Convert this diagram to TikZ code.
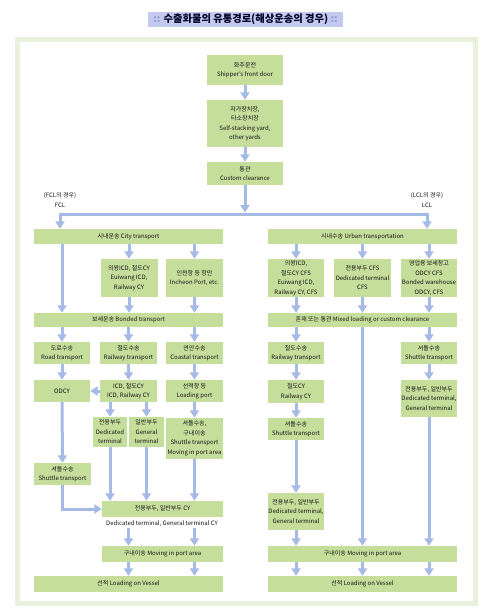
\documentclass[tikz,border=0pt]{standalone}
\usepackage{fontspec}
\setmainfont{Noto Sans CJK KR}
\usetikzlibrary{arrows.meta}
\definecolor{flowgreen}{RGB}{197,222,155}
\definecolor{flowblue}{RGB}{166,186,230}
\definecolor{framegreen}{RGB}{231,241,220}
\definecolor{titlebg}{RGB}{196,201,240}
\definecolor{titledot}{RGB}{140,155,215}
\newcommand{\boxfont}{\fontsize{6}{9.5}\selectfont}

\begin{document}
\begin{tikzpicture}[x=1pt,y=-1pt,
bx/.style={fill=flowgreen,align=center,inner sep=0.5pt,font=\boxfont,text=black!92},
bar/.style={bx,minimum width=189pt,minimum height=15pt},
half/.style={bx,minimum width=121pt,minimum height=16pt},
cell/.style={bx,minimum width=57pt,minimum height=22pt},
lbl/.style={align=center,font=\boxfont,inner sep=0.5pt,text=black!92},
arr/.style={-{Triangle[width=9pt,length=7.5pt]},line width=3pt,draw=flowblue},
ln/.style={line width=3pt,draw=flowblue}
]
\useasboundingbox (0,0) rectangle (493,615);
\draw[framegreen,line width=5pt] (17.5,39.5) rectangle (475,603);
\node[fill=titlebg,minimum width=195pt,minimum height=15pt,inner sep=0pt,font=\fontsize{10.3}{12}\selectfont\bfseries,text=black!85!blue] (title) at (245.5,19.5) {\textcolor{titledot}{::} 수출화물의 유통경로(해상운송의 경우) \textcolor{titledot}{::}};

% top
\node[bx,minimum width=76pt,minimum height=30pt] (ship) at (245,70) {화주문전\\Shipper's front door};
\node[bx,minimum width=76pt,minimum height=47pt] (yard) at (245,123.5) {자가장치장,\\타소장치장\\Self-stacking yard,\\other yards};
\node[bx,minimum width=76pt,minimum height=23pt] (clear) at (245,173.5) {통관\\Custom clearance};
\node[lbl] (fcl) at (60,200) {(FCL의 경우)\\FCL};
\node[lbl] (lcl) at (427,200) {(LCL의 경우)\\LCL};
\coordinate (split) at (245,214);

% FCL side
\node[bar] (city) at (128.5,236.5) {시내운송 City transport};
\node[cell,minimum height=38pt] (euicd) at (129,278) {의왕ICD, 철도CY\\Euiwang ICD,\\Railway CY};
\node[cell,minimum height=38pt] (incheon) at (194.5,278) {인천항 등 항만\\Incheon Port, etc.};
\node[bar,minimum height=14pt] (bonded) at (128.5,320) {보세운송 Bonded transport};
\node[cell,minimum width=56pt] (road) at (62,353) {도로수송\\Road transport};
\node[cell] (rail) at (128.5,353) {철도수송\\Railway transport};
\node[cell] (coastal) at (194.5,353) {연안수송\\Coastal transport};
\node[cell,minimum width=56pt] (odcy) at (62,391) {ODCY};
\node[cell] (icd) at (128.5,391) {ICD, 철도CY\\ICD, Railway CY};
\node[cell] (lport) at (194.5,391) {선적항 등\\Loading port};
\node[bx,minimum width=34pt,minimum height=30pt] (dedi) at (110,432) {전용부두\\Dedicated\\terminal};
\node[bx,minimum width=35pt,minimum height=30pt] (gen) at (146.5,432) {일반부두\\General\\terminal};
\node[cell,minimum height=41pt] (shmove) at (194.5,438.5) {셔틀수송,\\구내이송\\Shuttle transport\\Moving in port area};
\node[cell] (shutL) at (62.5,474) {셔틀수송\\Shuttle transport};
\node[half] (cy) at (162.5,509) {전용부두, 일반부두 CY};
\node[lbl] (cylbl) at (162,524) {Dedicated terminal, General terminal CY};
\node[half] (moveL) at (162.5,554) {구내이송 Moving in port area};
\node[bar,minimum height=16pt] (loadL) at (128.5,584) {선적 Loading on Vessel};

% LCL side
\node[bar] (urban) at (362.5,236.5) {시내수송 Urban transportation};
\node[cell,minimum width=56pt,minimum height=38pt] (euicfs) at (296,278) {의왕ICD,\\철도CY CFS\\Euiwang ICD,\\Railway CY, CFS};
\node[cell,minimum height=38pt] (dcfs) at (362.5,278) {전용부두 CFS\\Dedicated terminal\\CFS};
\node[cell,minimum width=56pt,minimum height=38pt] (bware) at (429,278) {영업용 보세창고\\ODCY CFS\\Bonded warehouse\\ODCY, CFS};
\node[bar,minimum height=14pt] (mixed) at (362.5,320) {혼재 또는 통관 Mixed loading or custom clearance};
\node[cell,minimum width=56pt] (railR) at (296,353) {철도수송\\Railway transport};
\node[cell,minimum width=56pt] (shutR) at (429,353) {셔틀수송\\Shuttle transport};
\node[cell,minimum width=56pt,minimum height=23pt] (railcy) at (296,391.5) {철도CY\\Railway CY};
\node[cell,minimum width=56pt] (shutR2) at (296,429) {셔틀수송\\Shuttle transport};
\node[cell,minimum width=56pt,minimum height=37pt] (dgR) at (429,398.5) {전용부두, 일반부두\\Dedicated terminal,\\General terminal};
\node[cell,minimum width=56pt,minimum height=37pt] (dgL) at (296,511.5) {전용부두, 일반부두\\Dedicated terminal,\\General terminal};
\node[bar,minimum height=16pt] (moveR) at (362.5,554) {구내이송 Moving in port area};
\node[bar,minimum height=16pt] (loadR) at (362.5,584) {선적 Loading on Vessel};

% top arrows
\draw[arr] (ship) -- (yard);
\draw[arr] (yard) -- (clear);
\draw[arr,shorten >=1.5pt] (clear) -- (split);
\draw[arr] (split) -| (city.north -| fcl);
\draw[arr] (split) -| (urban.north -| lcl);

% FCL arrows
\draw[arr] (road |- city.south) -- (road |- bonded.north);
\draw[arr] (euicd |- city.south) -- (euicd);
\draw[arr] (incheon |- city.south) -- (incheon);
\draw[arr] (euicd) -- (euicd |- bonded.north);
\draw[arr] (incheon) -- (incheon |- bonded.north);
\draw[arr] (road |- bonded.south) -- (road);
\draw[arr] (rail |- bonded.south) -- (rail);
\draw[arr] (coastal |- bonded.south) -- (coastal);
\draw[arr] (road) -- (odcy);
\draw[arr] (rail) -- (icd);
\draw[arr] (coastal) -- (lport);
\draw[arr] (icd) -- (odcy);
\draw[arr] (dedi |- icd.south) -- (dedi);
\draw[arr] (gen |- icd.south) -- (gen);
\draw[arr] (lport) -- (shmove);
\draw[arr] (odcy) -- (shutL);
\draw[arr] (shutL) |- (cy);
\draw[arr] (dedi) -- (dedi |- cy.north);
\draw[arr] (gen) -- (gen |- cy.north);
\draw[arr] (shmove) -- (shmove |- cy.north);
\draw[arr] (rail |- cylbl.south) -- (rail |- moveL.north);
\draw[arr] (coastal |- cylbl.south) -- (coastal |- moveL.north);
\draw[arr] (rail |- moveL.south) -- (rail |- loadL.north);
\draw[arr] (coastal |- moveL.south) -- (coastal |- loadL.north);

% LCL arrows
\draw[arr] (euicfs |- urban.south) -- (euicfs);
\draw[arr] (dcfs |- urban.south) -- (dcfs);
\draw[arr] (bware |- urban.south) -- (bware);
\draw[arr] (euicfs) -- (euicfs |- mixed.north);
\draw[arr] (dcfs) -- (dcfs |- mixed.north);
\draw[arr] (bware) -- (bware |- mixed.north);
\draw[arr] (railR |- mixed.south) -- (railR);
\draw[arr] (shutR |- mixed.south) -- (shutR);
\draw[arr] (dcfs |- mixed.south) -- (dcfs |- moveR.north);
\draw[arr] (railR) -- (railcy);
\draw[arr] (railcy) -- (shutR2);
\draw[arr] (shutR2) -- (dgL);
\draw[arr] (shutR) -- (dgR);
\draw[arr] (dgR) -- (dgR |- moveR.north);
\draw[arr] (dgL) -- (dgL |- moveR.north);
\draw[arr] (dgL |- moveR.south) -- (dgL |- loadR.north);
\draw[arr] (dcfs |- moveR.south) -- (dcfs |- loadR.north);
\draw[arr] (dgR |- moveR.south) -- (dgR |- loadR.north);
\end{tikzpicture}
\end{document}
